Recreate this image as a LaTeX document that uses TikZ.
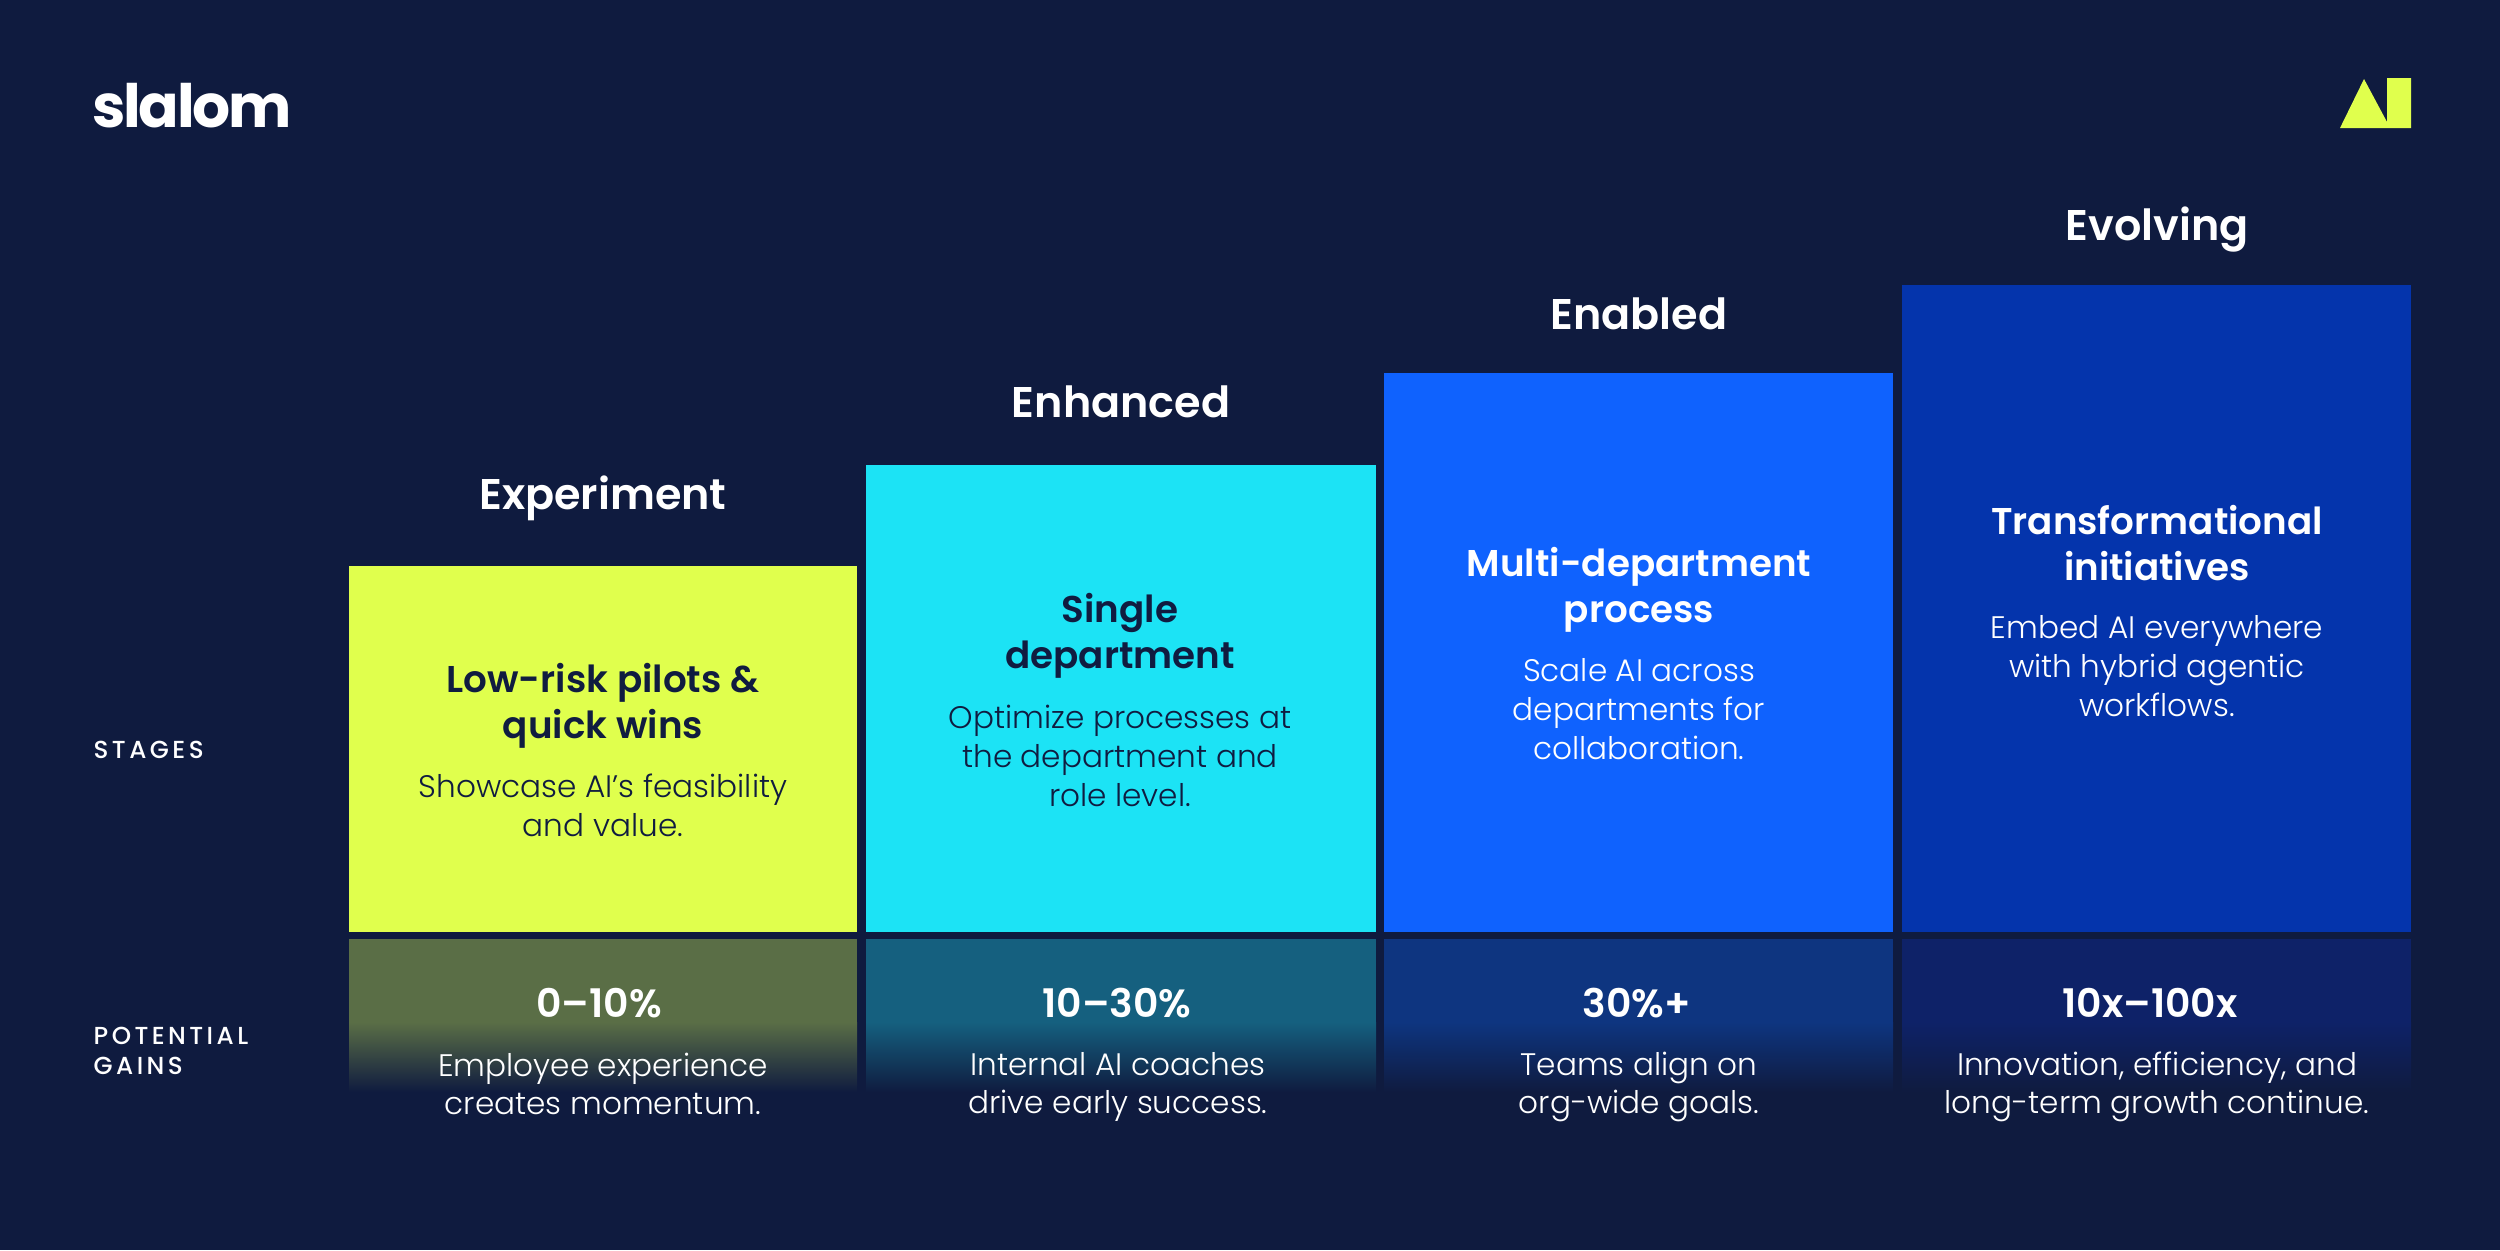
\documentclass[tikz,border=0pt]{standalone}
\usepackage{fontspec}
\setmainfont{Poppins}
\newfontfamily\headfont{Poppins SemiBold}
\newfontfamily\bodyfont{Poppins Light}
\newfontfamily\tagfont[LetterSpace=14]{Poppins Medium}
\newfontfamily\logofont[LetterSpace=-4]{Poppins}
\definecolor{bgnavy}{HTML}{0F1B3F}
\definecolor{inknavy}{HTML}{101C40}
\definecolor{limeb}{HTML}{E0FF4D}
\definecolor{cyanb}{HTML}{1CE3F5}
\definecolor{blueb}{HTML}{0F62FE}
\definecolor{deepb}{HTML}{0434AC}
\definecolor{limeg}{HTML}{5A6E46}
\definecolor{cyang}{HTML}{15607F}
\definecolor{blueg}{HTML}{0E3580}
\definecolor{deepg}{HTML}{0E2268}
\tikzset{
	stagetitle/.style={text=white, font=\headfont\fontsize{12.2}{14}\selectfont},
	stagehead/.style={align=center, font=\headfont\fontsize{10.6}{13.2}\selectfont},
	stagebody/.style={align=center, font=\bodyfont\fontsize{8.85}{11}\selectfont},
	gainvalue/.style={text=white, font=\headfont\fontsize{11.2}{13}\selectfont},
	sidelabel/.style={text=white, anchor=west, align=left, inner sep=0pt, font=\tagfont\fontsize{7}{8.6}\selectfont},
}
\begin{document}
\begin{tikzpicture}[x=0.01cm, y=-0.01cm]
	\useasboundingbox (0,0) rectangle (2500,1250);
	\fill[bgnavy] (0,0) rectangle (2500,1250);

	\path (92,106) node[anchor=west, inner sep=0pt, text=white, font=\logofont\bfseries\fontsize{17}{20}\selectfont] (logo){slalom};
	\fill[limeb] (2340,128) -- (2364,79) -- (2387,122) -- (2387,78) -- (2411,78) -- (2411,128) -- cycle;

	% stages
	\fill[limeb] (349,566) rectangle (857,932);
	\fill[cyanb] (866,465) rectangle (1376,932);
	\fill[blueb] (1384,373) rectangle (1893,932);
	\fill[deepb] (1902,285) rectangle (2411,932);

	% gains
	\fill[limeg] (349,939) rectangle (857,1022);
	\fill[cyang] (866,939) rectangle (1376,1022);
	\fill[blueg] (1384,939) rectangle (1893,1022);
	\fill[deepg] (1902,939) rectangle (2411,1022);
	\shade[top color=limeg, bottom color=bgnavy] (349,1022) rectangle (857,1092);
	\shade[top color=cyang, bottom color=bgnavy] (866,1022) rectangle (1376,1092);
	\shade[top color=blueg, bottom color=bgnavy] (1384,1022) rectangle (1893,1092);
	\shade[top color=deepg, bottom color=bgnavy] (1902,1022) rectangle (2411,1092);

	\path (603,498) node[stagetitle] (t1){Experiment}
	(1121,402) node[stagetitle] (t2){Enhanced}
	(1639,314) node[stagetitle] (t3){Enabled}
	(2157,230) node[stagetitle] (t4){Evolving};

	\path (603,706) node[stagehead, text=inknavy] (h1){Low-risk pilots \&\\quick wins}
	(1120,636) node[stagehead, text=inknavy] (h2){Single\\department}
	(1639,590) node[stagehead, text=white] (h3){Multi-department\\process}
	(2157,543) node[stagehead, text=white] (h4){Transformational\\initiatives};

	\path (603,805) node[stagebody, text=inknavy] (b1){Showcase AI’s feasibility\\and value.}
	(1120,756) node[stagebody, text=inknavy] (b2){Optimize processes at\\the department and\\role level.}
	(1639,709) node[stagebody, text=white] (b3){Scale AI across\\departments for\\collaboration.}
	(2157,666) node[stagebody, text=white] (b4){Embed AI everywhere\\with hybrid agentic\\workflows.};

	\path (599,1003) node[gainvalue] (v1){0–10\%}
	(1117,1003) node[gainvalue] (v2){10–30\%}
	(1637,1003) node[gainvalue] (v3){30\%+}
	(2150,1003) node[gainvalue] (v4){10x–100x};

	\path (603,1084) node[stagebody, text=white] (g1){Employee experience\\creates momentum.}
	(1118,1087) node[stagebody, text=white] (g2){Internal AI coaches\\drive early success.}
	(1639,1087) node[stagebody, text=white] (g3){Teams align on\\org-wide goals.}
	(2157,1087) node[stagebody, text=white] (g4){Innovation, efficiency, and\\long-term growth continue.};

	\path (93,750) node[sidelabel] (stages){STAGES}
	(93,1051) node[sidelabel] (gains){POTENTIAL\\GAINS};
\end{tikzpicture}
\end{document}
